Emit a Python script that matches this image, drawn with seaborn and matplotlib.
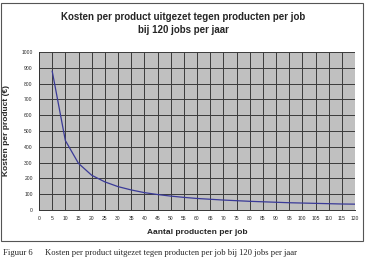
import matplotlib
matplotlib.use("Agg")
import matplotlib.pyplot as plt
import seaborn as sns
import pandas as pd
from matplotlib.patches import Rectangle

producten = [5, 10, 15, 20, 25, 30, 35, 40, 45, 50, 55, 60, 65, 70, 75, 80, 85, 90, 95, 100, 105, 110, 115, 120]
kosten = [880, 440, 295, 220, 178, 148, 127, 110, 98, 88, 80, 73, 68, 63, 59, 55, 52, 49, 46, 44, 42, 40, 38, 37]
xticks = list(range(0, 121, 5))
yticks = list(range(0, 1001, 100))

df = pd.DataFrame({"x": producten, "y": kosten})

sns.set_style("white")
plt.rcParams['font.family'] = ['Liberation Sans', 'DejaVu Sans']

fig = plt.figure(figsize=(3.67, 2.61), dpi=100)
ax = fig.add_axes([39/367, 1-210/261, (355-39)/367, (210-52)/261])

# outer chart border
fig.patches.append(Rectangle((1.5/367, 1-241/261), (363-1.5)/367, (241-3)/261,
                             transform=fig.transFigure, fill=False,
                             edgecolor="#555555", linewidth=0.8))

ax.set_facecolor("#C0C0C0")
sns.lineplot(data=df, x="x", y="y", ax=ax, color="#3A3A98", linewidth=0.9)

ax.set_xlim(0, 120)
ax.set_ylim(0, 1000)
ax.set_xticks(xticks)
ax.set_yticks(yticks)
ax.set_xticklabels([str(t) for t in xticks], fontsize=3.6)
ax.set_yticklabels([str(t) for t in yticks], fontsize=3.6)
ax.grid(True, color="#3a3a3a", linewidth=0.7)
ax.set_axisbelow(True)
for s in ["top", "right"]:
    ax.spines[s].set_visible(False)
for s in ["left", "bottom"]:
    ax.spines[s].set_color("#333333")
    ax.spines[s].set_linewidth(0.7)
ax.tick_params(axis="both", length=2, width=0.6, pad=2.5, color="#333333")

ax.set_xlabel("Aantal producten per job", fontsize=6, fontweight="bold", labelpad=5.5)
ax.set_ylabel("Kosten per product (€)", fontsize=6, fontweight="bold", labelpad=8)

fig.text(0.5, 1-23.5/261, "Kosten per product uitgezet tegen producten per job\nbij 120 jobs per jaar",
         ha="center", va="center", fontsize=7.0, fontweight="bold", linespacing=1.35)

fig.text(3/367, 1-253/261, "Figuur 6", fontsize=6.2, family=["Liberation Serif"], va="center")
fig.text(45/367, 1-253/261, "Kosten per product uitgezet tegen producten per job bij 120 jobs per jaar",
         fontsize=6.2, family=["Liberation Serif"], va="center")

fig.savefig("out.png", dpi=100)
